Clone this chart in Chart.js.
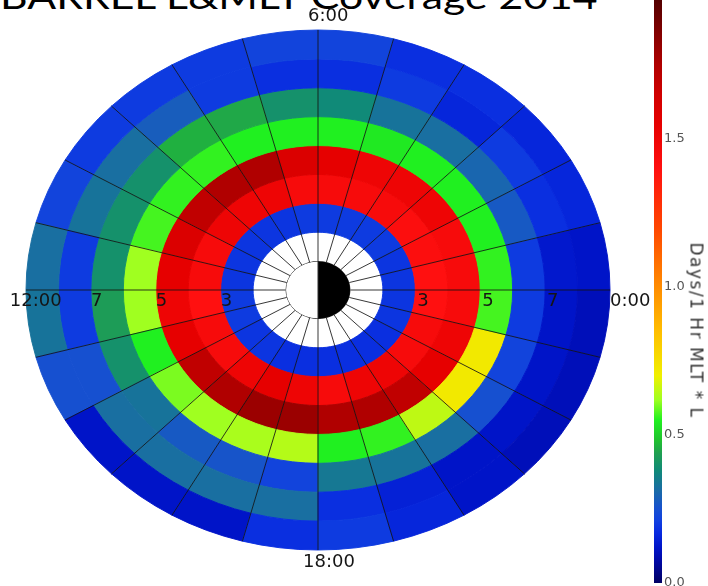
<!DOCTYPE html>
<html>
<head>
<meta charset="utf-8">
<title>BARREL L&amp;MLT Coverage 2014</title>
<script src="https://cdn.jsdelivr.net/npm/chart.js@4/dist/chart.umd.min.js"></script>
<style>
  html, body { margin: 0; padding: 0; background: #fff; }
  body { width: 708px; height: 586px; position: relative; overflow: hidden; }
  #title { position: absolute; left: 0; top: -21px; font-family: Lato, "Open Sans", sans-serif;
           font-size: 34px; line-height: 34px; white-space: nowrap; color: #000; transform-origin: 0 0; }
  #plot { position: absolute; left: 0; top: 0; width: 708px; height: 586px; }
  #bar { position: absolute; left: 640px; top: -40px; width: 68px; height: 640px; }
  #barTitle { position: absolute; font-family: "DejaVu Sans", sans-serif; font-size: 17px; line-height: 17px;
              letter-spacing: 1.5px; color: #333; white-space: nowrap; transform-origin: center; }
</style>
</head>
<body>
<div id="title">BARREL L&amp;MLT Coverage 2014</div>
<canvas id="plot" width="708" height="586"></canvas>
<canvas id="bar" width="68" height="640"></canvas>
<div id="barTitle">Days/1 Hr MLT * L</div>
<script>
// Magnetic local time bins (hours), midnight at the right, noon at the left
const mltHours = [0, 1, 2, 3, 4, 5, 6, 7, 8, 9, 10, 11, 12, 13, 14, 15, 16, 17, 18, 19, 20, 21, 22, 23];
const mltBinWidth = 1;

// Coverage in days per 1-hour MLT x 1-L bin, indexed by MLT hour
const daysL2 = [0.19, 0.19, 0.20, 0.20, 0.20, 0.20, 0.20, 0.19, 0.19, 0.19, 0.19, 0.19,
                0.20, 0.20, 0.19, 0.19, 0.18, 0.18, 0.18, 0.18, 0.18, 0.18, 0.19, 0.19];
const daysL3 = [1.40, 1.42, 1.42, 1.45, 1.45, 1.45, 1.45, 1.50, 1.50, 1.50, 1.45, 1.45,
                1.40, 1.45, 1.45, 1.50, 1.55, 1.50, 1.45, 1.50, 1.50, 1.45, 1.45, 1.40];
const daysL4 = [1.45, 1.45, 1.50, 1.50, 1.50, 1.55, 1.60, 1.75, 1.75, 1.70, 1.60, 1.55,
                1.50, 1.55, 1.70, 1.75, 1.80, 1.80, 1.75, 1.75, 1.70, 1.55, 1.50, 1.45];
const daysL5 = [0.56, 0.55, 0.55, 0.55, 0.54, 0.55, 0.55, 0.55, 0.56, 0.56, 0.57, 0.62,
                0.62, 0.55, 0.60, 0.62, 0.63, 0.64, 0.55, 0.56, 0.65, 0.72, 0.72, 0.57];
const daysL6 = [0.20, 0.27, 0.30, 0.32, 0.33, 0.38, 0.40, 0.45, 0.46, 0.40, 0.40, 0.40,
                0.43, 0.40, 0.33, 0.27, 0.26, 0.22, 0.34, 0.33, 0.32, 0.25, 0.22, 0.20];
const daysL7 = [0.13, 0.18, 0.20, 0.16, 0.20, 0.18, 0.18, 0.20, 0.28, 0.32, 0.33, 0.20,
                0.20, 0.25, 0.32, 0.32, 0.32, 0.32, 0.18, 0.15, 0.12, 0.12, 0.12, 0.12];
const daysL8 = [0.12, 0.16, 0.16, 0.18, 0.18, 0.22, 0.22, 0.20, 0.20, 0.20, 0.22, 0.32,
                0.33, 0.25, 0.12, 0.12, 0.12, 0.18, 0.20, 0.16, 0.12, 0.10, 0.10, 0.10];

// Earth: night side (18:00 -> 6:00 through midnight) and day side, in hours
const earthHours = [12, 12];
const earthColors = ['#000000', '#ffffff'];

// L-shell edges (Earth radii) and the tick labels along the noon-midnight line
const lShellEdges = [0, 1, 2, 3, 4, 5, 6, 7, 8, 9];
const lTicks = [-7, -5, -3, 3, 5, 7];
const mltLabelText = ['0:00', '6:00', '12:00', '18:00'];

// Colour bar
const barTicks = [0.0, 0.5, 1.0, 1.5];
const barMax = 2.0;

// Rainbow colour table: [value, [r, g, b]]
const colormap = [
  [0.00, [0, 0, 100]], [0.08, [0, 10, 170]], [0.12, [0, 20, 200]], [0.17, [8, 42, 224]],
  [0.21, [16, 64, 224]], [0.25, [22, 80, 208]], [0.31, [26, 106, 168]], [0.38, [16, 138, 120]],
  [0.44, [32, 160, 80]], [0.48, [32, 192, 48]], [0.55, [32, 240, 32]], [0.62, [160, 255, 32]],
  [0.70, [240, 240, 0]], [0.85, [255, 190, 0]], [1.00, [255, 140, 0]], [1.20, [255, 70, 0]],
  [1.40, [255, 16, 16]], [1.55, [230, 0, 0]], [1.65, [208, 0, 0]], [1.75, [176, 0, 0]],
  [2.00, [70, 0, 0]]
];

function rgb(c) { return 'rgb(' + c.map(Math.round).join(',') + ')'; }
function colorFor(v) {
  if (v <= colormap[0][0]) return rgb(colormap[0][1]);
  for (let i = 1; i < colormap.length; i++) {
    const [v1, c1] = colormap[i];
    if (v <= v1) {
      const [v0, c0] = colormap[i - 1];
      const t = (v - v0) / (v1 - v0);
      return rgb(c0.map((a, k) => a + (c1[k] - a) * t));
    }
  }
  return rgb(colormap[colormap.length - 1][1]);
}

// Outermost ring first, as the doughnut stacks datasets from the outside in
const ringValues = [daysL8, daysL7, daysL6, daysL5, daysL4, daysL3, daysL2];
const hourSlices = mltHours.map(() => mltBinWidth);

const datasets = ringValues.map(vals => {
  const colors = vals.map(colorFor);
  return { data: hourSlices, backgroundColor: colors, borderColor: colors, borderWidth: 1, clip: false };
});
// White ring between L = 1 and L = 2 with hour spokes
datasets.push({ data: hourSlices, backgroundColor: '#ffffff', borderWidth: 0, clip: false });
// Earth disc, started at 18:00 so the first half is the night side
datasets.push({ data: earthHours, backgroundColor: earthColors, borderColor: '#222222', borderWidth: 1,
                rotation: 0, clip: false });

const squash = 260 / 292;   // vertical / horizontal radius of the plot
const labelFont = '18px "DejaVu Sans", sans-serif';

const polarPlugin = {
  id: 'polarEllipse',
  beforeDatasetsDraw(chart) {
    const arc = chart.getDatasetMeta(0).data[0];
    const ctx = chart.ctx;
    ctx.save();
    // y-up frame so MLT runs counter-clockwise from midnight at the right
    ctx.translate(arc.x, arc.y);
    ctx.scale(1, -squash);
    ctx.translate(-arc.x, -arc.y);
  },
  afterDatasetsDraw(chart) {
    const ctx = chart.ctx;
    const outer = chart.getDatasetMeta(0).data;
    const spokeRing = chart.getDatasetMeta(ringValues.length).data[0];
    const r0 = spokeRing.innerRadius;
    ctx.strokeStyle = 'rgba(20,20,20,0.9)';
    ctx.lineWidth = 1;
    ctx.beginPath();
    outer.forEach(a => {
      const c = Math.cos(a.startAngle), s = Math.sin(a.startAngle);
      ctx.moveTo(a.x + r0 * c, a.y + r0 * s);
      ctx.lineTo(a.x + a.outerRadius * c, a.y + a.outerRadius * s);
    });
    ctx.stroke();
    ctx.restore();
  },
  afterDraw(chart) {
    const ctx = chart.ctx;
    const a = chart.getDatasetMeta(0).data[0];
    const cx = a.x, cy = a.y;
    const unit = a.outerRadius / lShellEdges[lShellEdges.length - 1];
    const vUnit = unit * squash;
    const lMax = lShellEdges[lShellEdges.length - 1];
    ctx.save();
    ctx.font = labelFont;
    ctx.textAlign = 'left';
    ctx.textBaseline = 'alphabetic';
    ctx.fillStyle = '#151515';
    lTicks.forEach(L => {
      ctx.fillText(String(Math.abs(L)), cx + L * unit + (L > 0 ? 2 : 0), cy + 16);
    });
    ctx.fillText(mltLabelText[0], cx + lMax * unit, cy + 16);
    ctx.fillText(mltLabelText[2], cx - (lMax + 0.5) * unit, cy + 16);
    ctx.fillText(mltLabelText[1], cx - 10, cy - lMax * vUnit - 9);
    ctx.fillText(mltLabelText[3], cx - 15, cy + lMax * vUnit + 17);
    ctx.restore();
  }
};

new Chart(document.getElementById('plot'), {
  type: 'doughnut',
  data: { labels: mltHours.map(h => h + ':00'), datasets },
  options: {
    responsive: false,
    animation: false,
    events: [],
    rotation: 90,
    cutout: 0,
    radius: 292,
    layout: { padding: { left: 26, right: 98, top: 0, bottom: 6 } },
    plugins: { legend: { display: false }, tooltip: { enabled: false } }
  },
  plugins: [polarPlugin]
});

// Colour bar: one bar from 0 to the top of the scale, filled with the colour table
new Chart(document.getElementById('bar'), {
  type: 'bar',
  data: {
    labels: [''],
    datasets: [{
      data: [barMax],
      barPercentage: 1,
      categoryPercentage: 1,
      borderWidth: 0,
      backgroundColor(ctx) {
        const chart = ctx.chart;
        const y = chart.scales.y;
        if (!chart.chartArea || !y) return colorFor(barMax / 2);
        const g = chart.ctx.createLinearGradient(0, y.getPixelForValue(0), 0, y.getPixelForValue(barMax));
        colormap.forEach(([v, c]) => g.addColorStop(Math.min(v / barMax, 1), rgb(c)));
        return g;
      }
    }]
  },
  options: {
    responsive: false,
    animation: false,
    events: [],
    layout: { padding: { left: 14, right: 0, top: 31, bottom: 17 } },
    plugins: { legend: { display: false }, tooltip: { enabled: false } },
    scales: {
      x: { display: false },
      y: {
        position: 'right',
        min: 0,
        max: barMax,
        grid: { display: false, drawTicks: false },
        border: { display: false },
        afterFit(scale) { scale.width = 46; },
        afterBuildTicks(scale) { scale.ticks = barTicks.map(v => ({ value: v })); },
        ticks: {
          padding: 2,
          color: '#555',
          font: { family: '"DejaVu Sans", sans-serif', size: 13 },
          callback: v => Number(v).toFixed(1)
        }
      }
    }
  }
});

// Fit the headline width and stand the colour-bar caption on its side
const title = document.getElementById('title');
title.style.transform = 'scaleX(' + (597 / title.offsetWidth) + ')';
const cap = document.getElementById('barTitle');
cap.style.left = (696 - cap.offsetWidth / 2) + 'px';
cap.style.top = (330 - cap.offsetHeight / 2) + 'px';
cap.style.transform = 'rotate(90deg)';
</script>
</body>
</html>
